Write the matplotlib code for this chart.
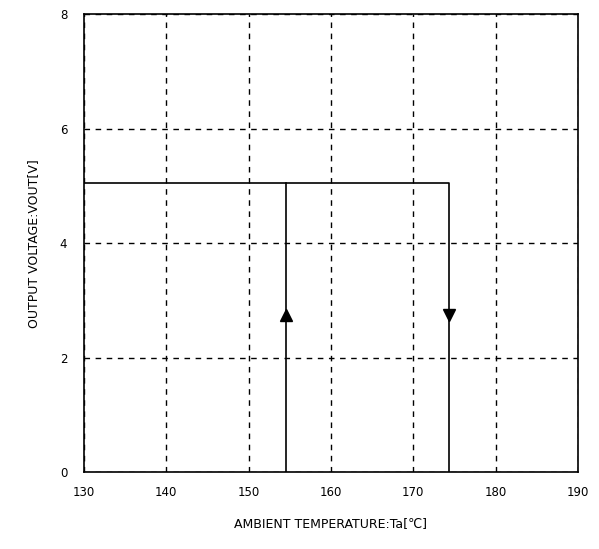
import matplotlib.pyplot as plt

# hysteresis du détecteur de température
temp_falling = [130, 174.3, 174.3]   # sortie haute jusqu'au seuil de déclenchement
vout_falling = [5.05, 5.05, 0]
temp_rising = [154.5, 154.5]         # retour au seuil de réarmement
vout_rising = [0, 5.05]
arrow_up = (154.5, 2.75)
arrow_down = (174.3, 2.75)

x_ticks = [130, 140, 150, 160, 170, 180, 190]
y_ticks = [0, 2, 4, 6, 8]

fig = plt.figure(figsize=(5.99, 5.49), dpi=100)
ax = fig.add_axes([0.140, 0.140, 0.825, 0.834])

ax.plot(temp_falling, vout_falling, color="black", lw=1.2)
ax.plot(temp_rising, vout_rising, color="black", lw=1.2)
ax.plot(*arrow_up, marker="^", color="black", markersize=8)
ax.plot(*arrow_down, marker="v", color="black", markersize=8)

ax.set_xlim(130, 190)
ax.set_ylim(0, 8)
ax.set_xticks(x_ticks)
ax.set_yticks(y_ticks)
ax.tick_params(length=0, labelsize=8.5, pad=12)
ax.tick_params(axis="x", pad=10)
ax.grid(True, color="black", linestyle=(0, (4, 4)), lw=1.0)
for s in ax.spines.values():
    s.set_linewidth(1.2)
    s.set_zorder(3)

ax.set_xlabel("AMBIENT TEMPERATURE:Ta[℃]", fontsize=9, labelpad=13)
ax.set_ylabel("OUTPUT VOLTAGE:VOUT[V]", fontsize=9, labelpad=14)

fig.savefig("out.png", dpi=100)
